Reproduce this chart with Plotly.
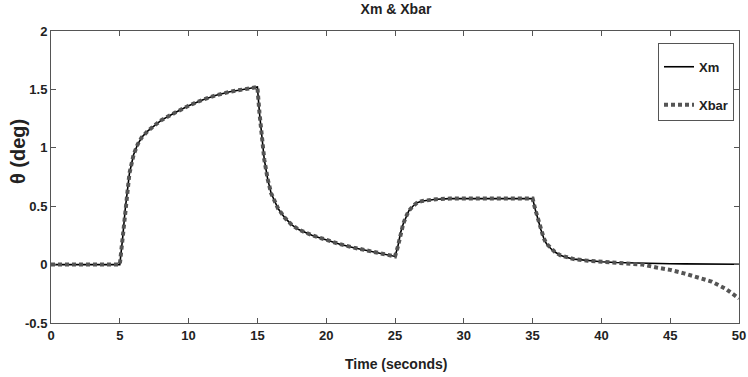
import plotly.graph_objects as go

time_s = [0, 5, 5.2, 5.4, 5.7, 6.0, 6.3, 6.6, 7.0, 7.5, 8, 9, 10, 11, 12, 13, 14, 15,
          15.15, 15.3, 15.5, 15.75, 16, 16.5, 17, 17.5, 18, 19, 20, 21, 22, 23, 24, 25,
          25.2, 25.4, 25.6, 25.8, 26.0, 26.3, 26.6, 27, 27.5, 28, 29, 30, 31, 32, 33, 34, 35,
          35.2, 35.4, 35.6, 35.8, 36.0, 36.3, 36.6, 37, 37.5, 38, 39, 40, 41, 42, 43, 44,
          45, 46, 47, 48, 49, 50]

xm = [0, 0, 0.22, 0.48, 0.78, 0.94, 1.03, 1.09, 1.14, 1.19, 1.235, 1.30, 1.36, 1.41, 1.45, 1.48, 1.50, 1.52,
      1.30, 1.10, 0.90, 0.73, 0.61, 0.48, 0.40, 0.34, 0.30, 0.25, 0.21, 0.175, 0.145, 0.12, 0.095, 0.07,
      0.15, 0.27, 0.35, 0.41, 0.46, 0.50, 0.53, 0.545, 0.555, 0.56, 0.565, 0.565, 0.565, 0.565, 0.565, 0.565, 0.565,
      0.47, 0.38, 0.30, 0.23, 0.18, 0.14, 0.11, 0.08, 0.06, 0.047, 0.033, 0.024, 0.018, 0.014, 0.011, 0.009,
      0.007, 0.006, 0.005, 0.004, 0.004, 0.003]

xbar = [0, 0, 0.22, 0.48, 0.78, 0.94, 1.03, 1.09, 1.14, 1.19, 1.235, 1.30, 1.36, 1.41, 1.45, 1.48, 1.50, 1.52,
        1.30, 1.10, 0.90, 0.73, 0.61, 0.48, 0.40, 0.34, 0.30, 0.25, 0.21, 0.175, 0.145, 0.12, 0.095, 0.07,
        0.15, 0.27, 0.35, 0.41, 0.46, 0.50, 0.53, 0.545, 0.555, 0.56, 0.565, 0.565, 0.565, 0.565, 0.565, 0.565, 0.565,
        0.47, 0.38, 0.30, 0.23, 0.18, 0.14, 0.11, 0.08, 0.06, 0.047, 0.033, 0.024, 0.016, 0.008, 0.0, -0.025,
        -0.045, -0.075, -0.11, -0.145, -0.205, -0.29]

x_ticks = [0, 5, 10, 15, 20, 25, 30, 35, 40, 45, 50]
y_ticks = [-0.5, 0, 0.5, 1, 1.5, 2]
y_tick_text = ["-0.5", "0", "0.5", "1", "1.5", "2"]

FONT = "Liberation Sans, Arial, sans-serif"
TXT = "#222222"

W, H = 748, 377
L, R, T, B = 51, 9, 31, 54
PW, PH = W - L - R, H - T - B

fig = go.Figure()
fig.add_trace(go.Scatter(x=time_s, y=xm, mode="lines", name="<b>Xm</b>",
                         line=dict(color="black", width=1.6), legendgroup="a"))
fig.add_trace(go.Scatter(x=time_s, y=xbar, mode="lines", name="<b>Xbar</b>",
                         line=dict(color="#555555", width=4, dash="4px,3px"), legendgroup="b"))

axis_common = dict(showline=True, linecolor="#555555", linewidth=1, mirror="ticks",
                   ticks="inside", ticklen=5, tickcolor="#555555", showgrid=False, zeroline=False,
                   automargin=False, ticklabeloverflow="allow",
                   tickfont=dict(family=FONT, size=13, color=TXT))

fig.update_layout(
    width=W, height=H,
    margin=dict(l=L, r=R, t=T, b=B),
    paper_bgcolor="white", plot_bgcolor="white",
    title=dict(text="<b>Xm &amp; Xbar</b>", x=396 / W, xanchor="center", y=0.99, yanchor="top",
               font=dict(family=FONT, size=14, color=TXT)),
    xaxis=dict(range=[0, 50], tickvals=x_ticks, ticktext=[f"<b>{v}</b>" for v in x_ticks],
               **axis_common),
    yaxis=dict(range=[-0.5, 2], tickvals=y_ticks, ticktext=[f"<b>{t}</b>" for t in y_tick_text],
               **axis_common),
    legend=dict(x=(658 - L) / PW, y=(H - B - 43) / PH, xanchor="left", yanchor="top",
                bordercolor="#555555", borderwidth=1, bgcolor="white",
                tracegroupgap=18, font=dict(family=FONT, size=13, color=TXT),
                title=dict(text="&nbsp;", font=dict(size=6))),
    showlegend=True,
    annotations=[
        dict(text="<b>Time (seconds)</b>", xref="paper", yref="paper",
             x=(396 - L) / PW, y=(H - B - 364) / PH, xanchor="center", yanchor="middle",
             showarrow=False, font=dict(family=FONT, size=14, color=TXT)),
        dict(text="<b>θ (deg)</b>", xref="paper", yref="paper", textangle=-90,
             x=(18 - L) / PW, y=(H - B - 152) / PH, xanchor="center", yanchor="middle",
             showarrow=False, font=dict(family=FONT, size=20, color=TXT)),
    ],
)

fig.write_html("out.html", config={"displayModeBar": False},
               post_script="document.body.style.margin='0';")
